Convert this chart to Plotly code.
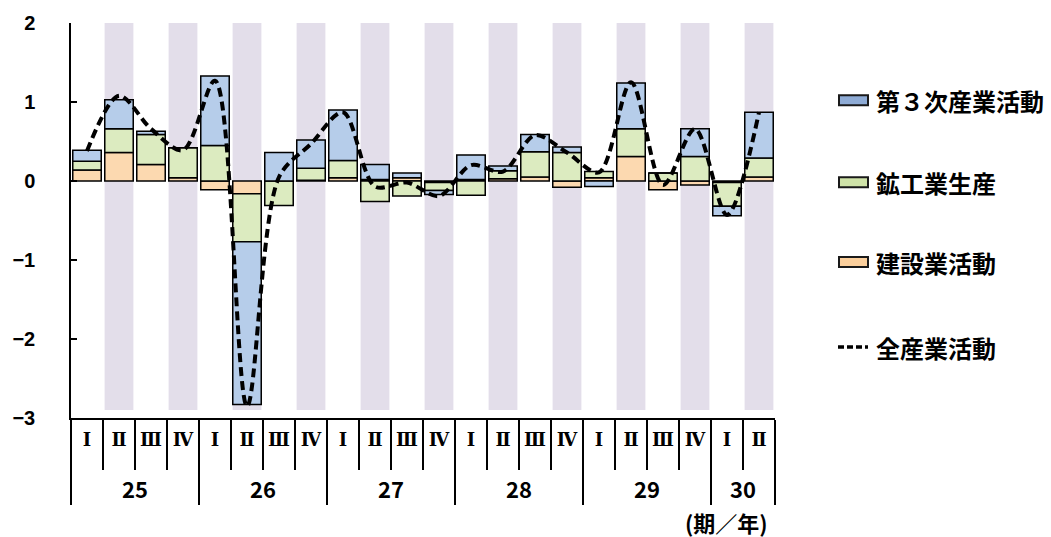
import plotly.graph_objects as go

# 四半期（年・期）
years = ["25"] * 4 + ["26"] * 4 + ["27"] * 4 + ["28"] * 4 + ["29"] * 4 + ["30"] * 2
quarters = ["Ⅰ", "Ⅱ", "Ⅲ", "Ⅳ"] * 5 + ["Ⅰ", "Ⅱ"]

# 前期比寄与度（%ポイント）
construction = [0.14, 0.36, 0.21, 0.04,
                -0.11, -0.16, 0.00, 0.01,
                0.04, 0.02, 0.04, -0.02,
                0.02, 0.03, 0.05, -0.08,
                0.04, 0.31, -0.11, -0.05,
                -0.02, 0.05]
mining = [0.11, 0.30, 0.38, 0.38,
          0.45, -0.61, -0.31, 0.15,
          0.22, -0.26, -0.19, -0.10,
          -0.18, 0.10, 0.32, 0.36,
          0.08, 0.35, 0.10, 0.31,
          -0.30, 0.24]
tertiary = [0.14, 0.37, 0.04, 0.00,
            0.88, -2.06, 0.36, 0.36,
            0.64, 0.19, 0.06, -0.05,
            0.31, 0.06, 0.22, 0.07,
            -0.07, 0.58, 0.00, 0.35,
            -0.12, 0.58]
all_industry = [0.38, 1.08, 0.66, 0.39,
                1.27, -2.85, 0.05, 0.47,
                0.87, -0.07, -0.02, -0.19,
                0.20, 0.12, 0.58, 0.36,
                0.11, 1.25, -0.05, 0.66,
                -0.43, 0.87]

y_ticks = [2, 1, 0, -1, -2, -3]

series = [
    ("建設業活動", construction, "#fcd9b0", "#fbcf9c"),
    ("鉱工業生産", mining, "#dcebc0", "#cfe3a8"),
    ("第３次産業活動", tertiary, "#b6cdea", "#8eabd5"),
]

FONT = "Noto Sans CJK JP"

# 年ラベルは一段下げ、期ラベルはセリフ体で表示
year_labels = ["<br>" + y for y in years]
quarter_labels = ['<span style="font-family:DejaVu Serif;font-size:18px">' + q + "</span>"
                  for q in quarters]
x = [year_labels, quarter_labels]

fig = go.Figure()
for name, vals, fill, _ in series:
    fig.add_trace(go.Bar(
        x=x, y=vals, name=name,
        marker=dict(color=fill, line=dict(color="black", width=1.5)),
        showlegend=False,
    ))

fig.add_trace(go.Scatter(
    x=x, y=all_industry, name="全産業活動", mode="lines",
    line=dict(color="black", width=4, dash="9px,5px", shape="spline", smoothing=0.9),
    showlegend=False,
))

# 偶数期の背景帯
shapes = []
for i, q in enumerate(quarters):
    if q in ("Ⅱ", "Ⅳ"):
        shapes.append(dict(
            type="rect", xref="x", yref="y", layer="below",
            x0=i - 0.45, x1=i + 0.45, y0=-2.9, y1=2,
            fillcolor="#e3deea", line=dict(width=0),
        ))

# 凡例（右側）
plot_left, plot_right, plot_top, plot_bottom = 71, 775, 22.7, 418
pw, ph = plot_right - plot_left, plot_bottom - plot_top


def px(v):
    return (v - plot_left) / pw


def py(v):
    return (plot_bottom - v) / ph


annotations = []
legend_items = [("第３次産業活動", 100, series[2][3]),
                ("鉱工業生産", 182, series[1][3]),
                ("建設業活動", 262, series[0][3]),
                ("全産業活動", 347, None)]
for label, ypix, col in legend_items:
    if col:
        shapes.append(dict(
            type="rect", xref="paper", yref="paper",
            x0=px(839), x1=px(868), y0=py(ypix + 5), y1=py(ypix - 5),
            fillcolor=col, line=dict(color="#1a1a1a", width=2),
        ))
    else:
        shapes.append(dict(
            type="line", xref="paper", yref="paper",
            x0=px(838), x1=px(868), y0=py(ypix), y1=py(ypix),
            line=dict(color="black", width=3.5, dash="6px,3px"),
        ))
    annotations.append(dict(
        x=px(874), y=py(ypix), xref="paper", yref="paper",
        text=label, showarrow=False, xanchor="left", yanchor="middle",
        font=dict(family=FONT, size=24, color="black", weight="bold"),
    ))

annotations.append(dict(
    x=px(726), y=py(522), xref="paper", yref="paper",
    text="(期／年)", showarrow=False, xanchor="center", yanchor="middle",
    font=dict(family=FONT, size=22, color="black", weight="bold"),
))

fig.update_layout(
    width=1051, height=537,
    margin=dict(l=71, r=1051 - plot_right, t=plot_top, b=537 - plot_bottom),
    paper_bgcolor="white", plot_bgcolor="white",
    barmode="relative", bargap=0.11,
    shapes=shapes, annotations=annotations,
    showlegend=False,
    xaxis=dict(
        type="multicategory", tickangle=0,
        showline=True, linecolor="black", linewidth=1.5,
        ticks="outside", tickson="boundaries", ticklen=50, tickcolor="black", tickwidth=1.5,
        showdividers=True, dividercolor="black", dividerwidth=1.5,
        showgrid=False,
        tickfont=dict(family=FONT, size=22, color="black", weight="bold"),
    ),
    yaxis=dict(
        range=[-3, 2], tickvals=y_ticks, ticktext=[str(v).replace("-", "−") for v in y_ticks],
        showline=True, linecolor="black", linewidth=1.5,
        ticks="inside", ticklen=6, tickcolor="black", tickwidth=1.5,
        showgrid=False, zeroline=False,
        ticklabelstandoff=30,
        tickfont=dict(family="Liberation Sans", size=20, color="black", weight="bold"),
    ),
)

fig.write_html("out.html")
